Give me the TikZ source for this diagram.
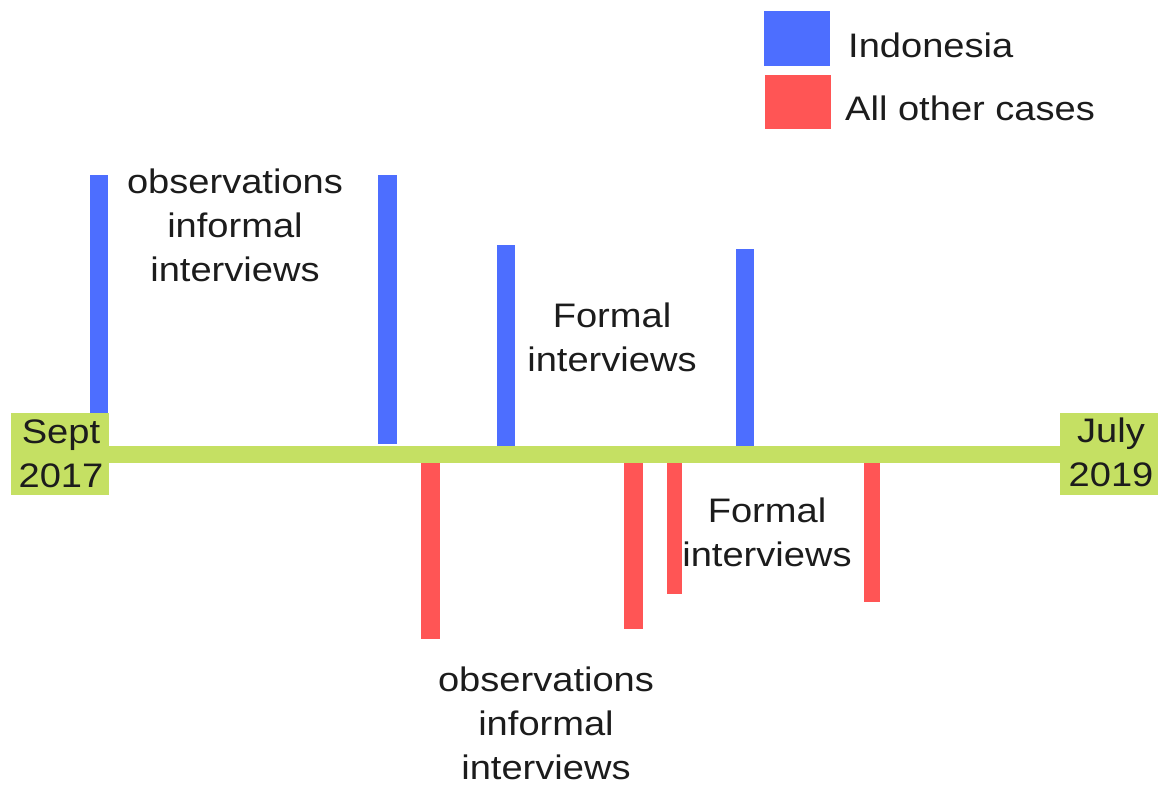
\documentclass[tikz,border=0pt]{standalone}
\usepackage{graphicx}
\usepackage{fontspec}
\setmainfont{Liberation Sans}
\definecolor{barblue}{HTML}{4D6EFF}
\definecolor{barred}{HTML}{FF5555}
\definecolor{linegreen}{HTML}{C5E063}
\definecolor{textgray}{HTML}{1C1C1C}
\newcommand{\mlines}[1]{\scalebox{1.12}[1]{\begin{tabular}[t]{@{}c@{}}#1\end{tabular}}}
\newcommand{\sx}[1]{\scalebox{1.12}[1]{#1}}
\tikzset{
  txt/.style={font=\fontsize{34}{44}\selectfont, text=textgray, inner sep=0pt, anchor=base},
  bluebar/.style={fill=barblue},
  redbar/.style={fill=barred},
  greenbox/.style={fill=linegreen}
}
\begin{document}
\begin{tikzpicture}[x=1pt,y=-1pt]
\useasboundingbox (0,0) rectangle (1158,785);
% bars
\fill[bluebar] (90,175) rectangle (108,415);
\fill[bluebar] (378,175) rectangle (397,444);
\fill[bluebar] (497,245) rectangle (515,447);
\fill[bluebar] (736,249) rectangle (754,447);
\fill[redbar] (421,462) rectangle (440,639);
\fill[redbar] (624,446) rectangle (643,629);
\fill[redbar] (667,462) rectangle (682,594);
\fill[redbar] (864,462) rectangle (880,602);
% timeline
\fill[greenbox] (108,446) rectangle (1062,463);
\fill[greenbox] (11,413) rectangle (109,495);
\fill[greenbox] (1060,413) rectangle (1158,495);
% labels on ends
\node[txt] (start) at (61,443) {\mlines{Sept\\2017}};
\node[txt] (end) at (1111,442) {\mlines{July\\2019}};
% annotations
\node[txt] (obs1) at (235,193) {\mlines{observations\\informal\\interviews}};
\node[txt] (formal1) at (612,327) {\mlines{Formal\\interviews}};
\node[txt] (formal2) at (767,522) {\mlines{Formal\\interviews}};
\node[txt] (obs2) at (546,691) {\mlines{observations\\informal\\interviews}};
% legend
\fill[bluebar] (764,11) rectangle (830,66);
\fill[redbar] (765,75) rectangle (831,129);
\node[txt, anchor=base west] (lg1) at (848,57) {\sx{Indonesia}};
\node[txt, anchor=base west] (lg2) at (845,120) {\sx{All other cases}};
\end{tikzpicture}
\end{document}
